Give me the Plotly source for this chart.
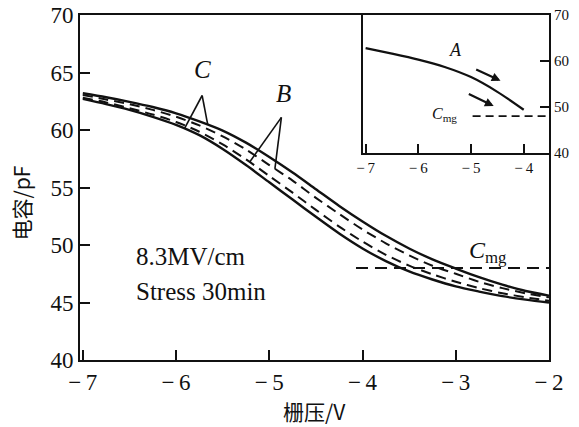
import numpy as np
import plotly.graph_objects as go

# ---- data ----
V = [-7.0, -6.75, -6.5, -6.25, -6.0, -5.75, -5.5, -5.25, -5.0, -4.75, -4.5,
     -4.25, -4.0, -3.75, -3.5, -3.25, -3.0, -2.75, -2.5, -2.25, -2.0]
C_upper_solid = [63.2, 62.85, 62.45, 62.0, 61.45, 60.75, 59.95, 58.9, 57.65, 56.3, 54.85,
                 53.4, 52.05, 50.8, 49.7, 48.75, 47.95, 47.2, 46.55, 46.0, 45.6]
C_upper_dash = [63.05, 62.65, 62.25, 61.75, 61.15, 60.4, 59.45, 58.3, 56.95, 55.6, 54.1,
                52.7, 51.35, 50.15, 49.1, 48.2, 47.5, 46.8, 46.25, 45.8, 45.45]
C_lower_dash = [62.8, 62.4, 61.9, 61.35, 60.7, 59.85, 58.75, 57.45, 56.0, 54.55, 53.05,
                51.6, 50.3, 49.15, 48.2, 47.45, 46.8, 46.25, 45.8, 45.45, 45.15]
C_lower_solid = [62.7, 62.25, 61.75, 61.15, 60.45, 59.55, 58.35, 56.95, 55.45, 53.95, 52.45,
                 51.0, 49.7, 48.6, 47.7, 47.0, 46.4, 45.95, 45.55, 45.25, 45.0]
Cmg = 48.0
Cmg_main_x = [-4.07, -2.0]

# inset curve A
V_in = [-7.0, -6.5, -6.0, -5.5, -5.0, -4.5, -4.0]
C_in = [62.8, 61.6, 60.3, 58.7, 56.5, 53.3, 49.4]
Cmg_in_x = [-4.97, -3.52]

x_ticks = [-7, -6, -5, -4, -3, -2]
x_ticktext = ["\u2212\u20097", "\u2212\u20096", "\u2212\u20095", "\u2212\u20094", "\u2212\u20093", "\u2212\u20092"]
y_ticks = [40, 45, 50, 55, 60, 65, 70]
xin_ticks = [-7, -6, -5, -4]
xin_ticktext = ["\u2212\u20097", "\u2212\u20096", "\u2212\u20095", "\u2212\u20094"]
yin_ticks = [40, 50, 60, 70]

SERIF = "Liberation Serif"
CJK = "Noto Sans CJK SC"
BLACK = "#111111"

fig = go.Figure()

solid = dict(color=BLACK, width=2.4, shape="spline", smoothing=0.8)
dash = dict(color=BLACK, width=2.0, dash="10px,6px", shape="spline", smoothing=0.8)
for ys, ln in [(C_upper_solid, solid), (C_upper_dash, dash),
               (C_lower_dash, dash), (C_lower_solid, solid)]:
    fig.add_trace(go.Scatter(x=V, y=ys, mode="lines", line=ln,
                             hoverinfo="skip", showlegend=False))
fig.add_trace(go.Scatter(x=Cmg_main_x, y=[Cmg, Cmg], mode="lines",
                         line=dict(color=BLACK, width=1.8, dash="12px,7px"),
                         showlegend=False))

# inset
fig.add_trace(go.Scatter(x=V_in, y=C_in, mode="lines", xaxis="x2", yaxis="y2",
                         line=dict(color=BLACK, width=2.2, shape="spline", smoothing=0.8),
                         showlegend=False))
fig.add_trace(go.Scatter(x=Cmg_in_x, y=[Cmg, Cmg], mode="lines", xaxis="x2", yaxis="y2",
                         line=dict(color=BLACK, width=1.8, dash="8px,5px"),
                         showlegend=False))

axis_common = dict(showline=True, linecolor=BLACK, linewidth=2, mirror=True,
                   ticks="inside", tickcolor=BLACK, tickwidth=2, showgrid=False,
                   zeroline=False, automargin=False)

fig.update_layout(
    width=579, height=427,
    margin=dict(l=80, r=30, t=15, b=67),
    paper_bgcolor="white", plot_bgcolor="white",
    xaxis=dict(range=[-7.03, -2.0], tickvals=x_ticks, ticktext=x_ticktext,
               ticklen=10, tickfont=dict(family=SERIF, size=23, color=BLACK),
               domain=[0, 1], **axis_common),
    yaxis=dict(range=[40, 70], tickvals=y_ticks, ticklen=10,
               tickfont=dict(family=SERIF, size=23, color=BLACK),
               domain=[0, 1], **axis_common),
    xaxis2=dict(range=[-7.05, -3.52], tickvals=xin_ticks, ticktext=xin_ticktext,
                ticklen=9, anchor="y2", domain=[0.6034, 1.0],
                tickfont=dict(family=SERIF, size=15, color=BLACK), **axis_common),
    yaxis2=dict(range=[40, 70], tickvals=yin_ticks, ticklen=9, anchor="x2",
                side="right", domain=[0.6, 1.0],
                tickfont=dict(family=SERIF, size=15, color=BLACK), **axis_common),
)

ann = []
def text(x, y, s, size, xref="x", yref="y", italic=False, family=SERIF, angle=0,
         xanchor="center"):
    ann.append(dict(x=x, y=y, xref=xref, yref=yref, text=s, showarrow=False,
                    textangle=angle, xanchor=xanchor, yanchor="middle",
                    font=dict(family=family, size=size, color=BLACK,
                              style="italic" if italic else "normal")))

text(-5.72, 65.3, "C", 25, italic=True)
text(-4.85, 63.2, "B", 25, italic=True)
text(-6.45, 49.0, "8.3MV/cm", 25, xanchor="left")
text(-6.45, 46.0, "Stress 30min", 25, xanchor="left")
text(-2.65, 49.4, "<i>C</i><sub>mg</sub>", 24)
text(-5.3, 62.5, "A", 18, xref="x2", yref="y2", italic=True)
text(-5.5, 48.3, "<i>C</i><sub>mg</sub>", 16, xref="x2", yref="y2")
text(-0.125, 0.455, "电容/pF", 21, xref="paper", yref="paper", family=CJK, angle=-90)
text(0.50, -0.148, "栅压/V", 21, xref="paper", yref="paper", family=CJK)

# inset sweep arrows
for (x0, y0, x1, y1) in [(-4.93, 58.3, -4.44, 55.7), (-5.07, 53.0, -4.57, 50.2)]:
    ann.append(dict(x=x1, y=y1, ax=x0, ay=y0, xref="x2", yref="y2",
                    axref="x2", ayref="y2", showarrow=True, arrowhead=2,
                    arrowsize=0.8, arrowwidth=2.2, arrowcolor=BLACK, text=""))
fig.update_layout(annotations=ann)

# leader lines for labels C and B (ends on the curves)
def leader(ax, ay, x_end, curve):
    y_end = float(np.interp(x_end, V, curve))
    fig.add_shape(type="line", xref="x", yref="y", x0=ax, y0=ay, x1=x_end, y1=y_end,
                  line=dict(color=BLACK, width=1.6))

leader(-5.72, 63.0, -5.91, C_lower_solid)
leader(-5.72, 63.0, -5.66, C_upper_solid)
leader(-4.87, 61.1, -5.21, C_lower_dash)
leader(-4.87, 61.1, -4.94, C_upper_dash)

fig.write_html("out.html")
